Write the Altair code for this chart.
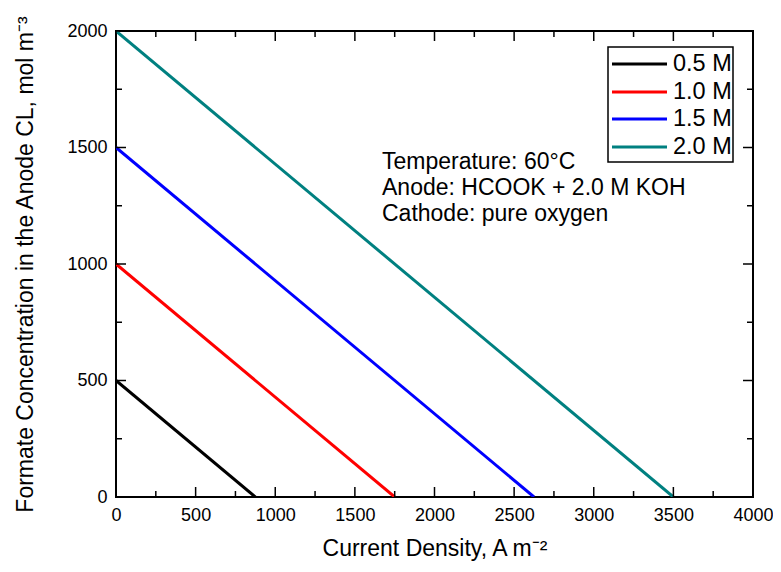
import altair as alt
import pandas as pd

# ---- data ----
series = ["0.5 M", "1.0 M", "1.5 M", "2.0 M"]
colors = ["#000000", "#ff0000", "#0000ff", "#008080"]
start_conc = [500, 1000, 1500, 2000]      # formate concentration at 0 A m-2
limit_cd = [875, 1750, 2625, 3500]        # current density where concentration reaches 0

x_major = [0, 500, 1000, 1500, 2000, 2500, 3000, 3500, 4000]
x_minor = [250, 750, 1250, 1750, 2250, 2750, 3250, 3750]
y_major = [0, 500, 1000, 1500, 2000]
y_minor = [250, 750, 1250, 1750]

notes = ["Temperature: 60\u00b0C", "Anode: HCOOK + 2.0 M KOH", "Cathode: pure oxygen"]

# ---- layout (pixels, relative to plot area) ----
W, H = 637, 466
XMAX, YMAX = 4000, 2000
FONT = "Liberation Sans"


def dx(px):
    return px / W * XMAX


def dy(py):
    return YMAX - py / H * YMAX


rows = []
for s, c0, cd in zip(series, start_conc, limit_cd):
    rows.append({"series": s, "cd": 0, "conc": c0})
    rows.append({"series": s, "cd": cd, "conc": 0})
lines_df = pd.DataFrame(rows)

xs = alt.Scale(domain=[0, XMAX], nice=False, zero=False)
ys = alt.Scale(domain=[0, YMAX], nice=False, zero=False)

x_axis = alt.Axis(values=x_major, format="d", ticks=False, domain=False, grid=False,
                  labelFlush=False, labelOverlap=False,
                  labelFontSize=18, labelPadding=9, labelColor="black", labelFont=FONT,
                  title="Current Density, A m\u207b\u00b2", titleFontSize=23,
                  titleFontWeight="normal", titlePadding=13, titleColor="black",
                  titleFont=FONT)
y_axis = alt.Axis(values=y_major, format="d", ticks=False, domain=False, grid=False,
                  labelFlush=False, labelOverlap=False,
                  labelFontSize=18, labelPadding=9, labelColor="black", labelFont=FONT,
                  title="Formate Concentration in the Anode CL, mol m\u207b\u00b3",
                  titleFontSize=23, titleFontWeight="normal", titlePadding=29,
                  titleColor="black", titleFont=FONT)


def X(field):
    return alt.X(field, scale=xs, axis=x_axis)


def Y(field):
    return alt.Y(field, scale=ys, axis=y_axis)


color = alt.Color("series:N", scale=alt.Scale(domain=series, range=colors), legend=None)

lines = alt.Chart(lines_df).mark_line(strokeWidth=3, clip=True).encode(
    x=X("cd:Q"), y=Y("conc:Q"), color=color, detail="series:N"
)

layers = [lines]

# inward ticks on all four sides
for vals, length in [(x_major, 10), (x_minor, 6)]:
    base = alt.Chart(pd.DataFrame({"v": vals}))
    layers.append(base.mark_rule(color="black", strokeWidth=1.5).encode(
        x=X("v:Q"), y=alt.value(H), y2=alt.value(H - length)))
    layers.append(base.mark_rule(color="black", strokeWidth=1.5).encode(
        x=X("v:Q"), y=alt.value(0), y2=alt.value(length)))
for vals, length in [(y_major, 10), (y_minor, 6)]:
    base = alt.Chart(pd.DataFrame({"v": vals}))
    layers.append(base.mark_rule(color="black", strokeWidth=1.5).encode(
        y=Y("v:Q"), x=alt.value(0), x2=alt.value(length)))
    layers.append(base.mark_rule(color="black", strokeWidth=1.5).encode(
        y=Y("v:Q"), x=alt.value(W), x2=alt.value(W - length)))

# legend box
box_df = pd.DataFrame({"x1": [dx(492)], "x2": [dx(617)], "y1": [dy(16)], "y2": [dy(131)]})
layers.append(alt.Chart(box_df).mark_rect(fill="white", stroke="black", strokeWidth=1.5).encode(
    x=X("x1:Q"), x2="x2:Q", y=Y("y1:Q"), y2="y2:Q"))

row_py = [33, 61, 88, 116]
leg_df = pd.DataFrame({
    "series": series,
    "lx1": [dx(496)] * 4,
    "lx2": [dx(551)] * 4,
    "tx": [dx(557)] * 4,
    "ly": [dy(p) for p in row_py],
})
layers.append(alt.Chart(leg_df).mark_rule(strokeWidth=3).encode(
    x=X("lx1:Q"), x2="lx2:Q", y=Y("ly:Q"), color=color))
layers.append(alt.Chart(leg_df).mark_text(align="left", baseline="middle", fontSize=23.5,
                                          font=FONT, color="black").encode(
    x=X("tx:Q"), y=Y("ly:Q"), text="series:N"))

# annotation
note_df = pd.DataFrame({"t": notes, "nx": [dx(266)] * 3, "ny": [dy(p) for p in [138, 164, 190]]})
layers.append(alt.Chart(note_df).mark_text(align="left", baseline="alphabetic", fontSize=23,
                                           font=FONT, color="black").encode(
    x=X("nx:Q"), y=Y("ny:Q"), text="t:N"))

chart = alt.layer(*layers).properties(
    width=W, height=H,
    autosize=alt.AutoSizeParams(type="none"),
    padding={"left": 108, "top": 23, "right": 20, "bottom": 65},
    background="white",
).configure_view(stroke="black", strokeWidth=2)

chart.save("out.html", embed_options={"renderer": "svg", "actions": False})
